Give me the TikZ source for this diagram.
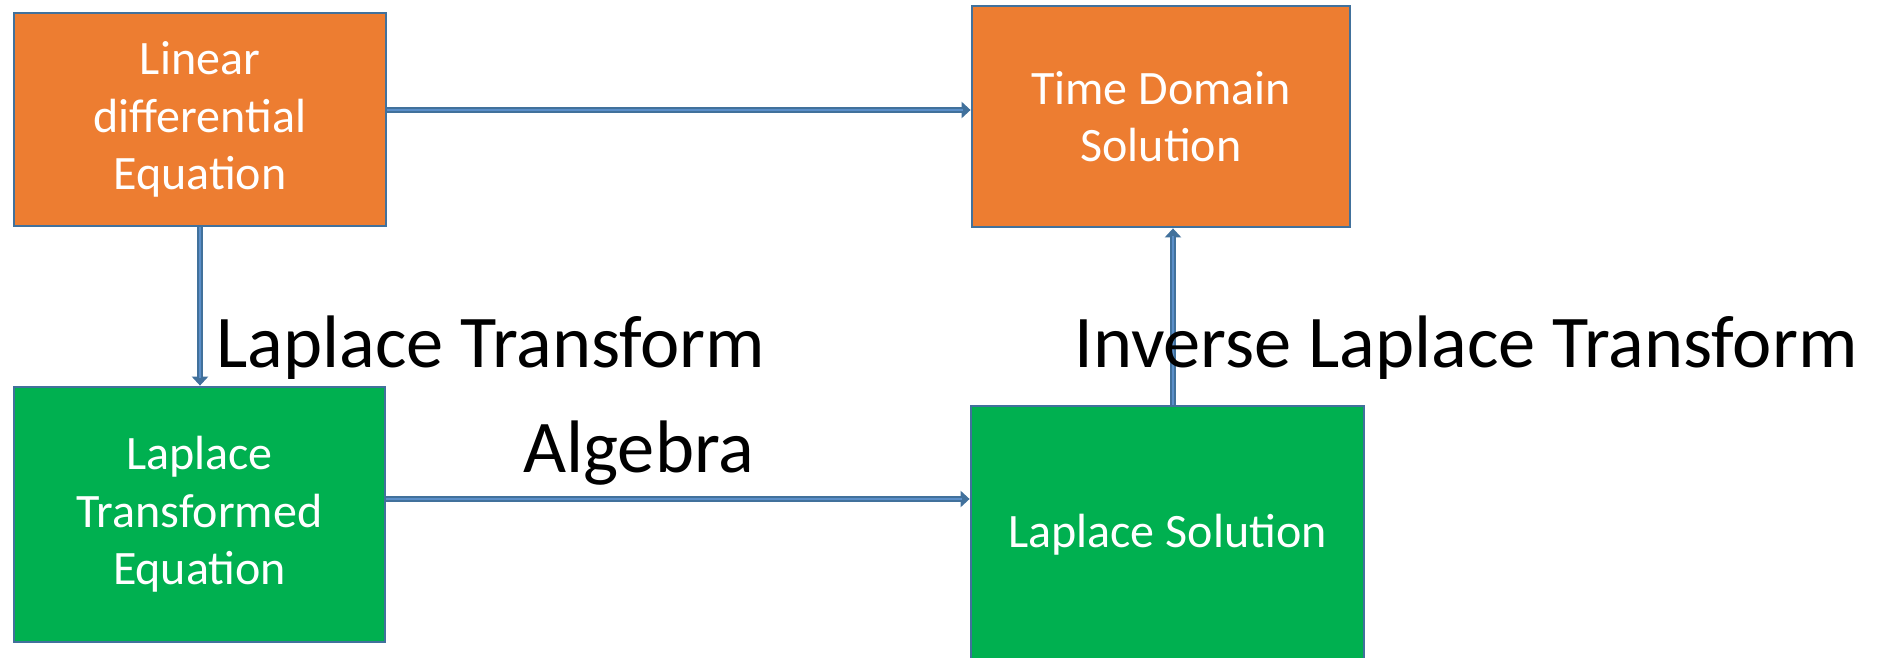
\documentclass[tikz,border=0pt]{standalone}
\usepackage{fontspec}
\setmainfont{Carlito}
\usetikzlibrary{arrows.meta}
\definecolor{boxorange}{HTML}{ED7D31}
\definecolor{boxgreen}{HTML}{00B050}
\definecolor{edgeblue}{HTML}{41719C}
\definecolor{flowblue}{HTML}{5B8FC9}
\begin{document}
\begin{tikzpicture}[x=0.5pt, y=-0.5pt,
  box/.style={draw=edgeblue, line width=1.4pt, text=white, align=center,
    font=\fontsize{24}{28.8}\selectfont, inner sep=0pt},
  flow/.style={draw=edgeblue, line width=3.2pt, -{Triangle[width=8pt,length=4.5pt]},
    postaction={draw=flowblue, line width=1.4pt, -, shorten >=4pt}},
  lab/.style={anchor=base west, inner sep=0pt, font=\fontsize{37.2}{44}\selectfont}]
  \clip (0,0) rectangle (1885,658);
  \fill[white] (0,0) rectangle (1885,658);
  \node[box, fill=boxorange, minimum width=186pt, minimum height=106.5pt] (lde) at (200,119.5) {Linear\\differential\\Equation};
  \node[box, fill=boxorange, minimum width=189pt, minimum height=110.5pt] (tds) at (1161,116.5) {Time Domain\\Solution};
  \node[box, fill=boxgreen, minimum width=185.5pt, minimum height=127.5pt] (lte) at (199.5,514.5) {Laplace\\Transformed\\Equation};
  \node[box, fill=boxgreen, minimum width=196.5pt, minimum height=129pt] (ls) at (1167.5,535) {Laplace Solution};
  \draw[flow] (lde.east) ++(0,-9.5) coordinate (t1) -- (t1 -| tds.west);
  \draw[flow] (lte.east) ++(0,-15.5) coordinate (b1) -- (b1 -| ls.west);
  \draw[flow] (lde.south) -- (lde.south |- lte.north);
  \draw[flow] (ls.north) ++(5.5,0) coordinate (r1) -- (r1 |- tds.south);
  \node[lab] (lt) at (216,367) {Laplace Transform};
  \node[lab] (ilt) at (1074,367) {Inverse Laplace Transform};
  \node[lab] (alg) at (523,472) {Algebra};
\end{tikzpicture}
\end{document}
